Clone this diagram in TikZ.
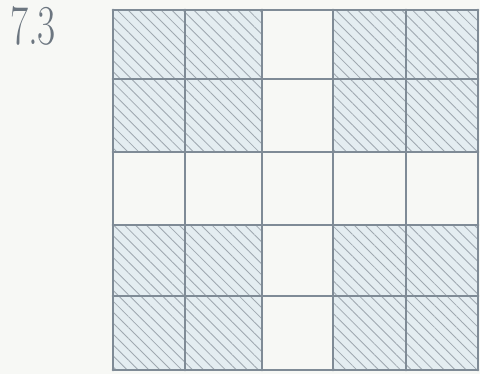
\documentclass[tikz,border=0pt]{standalone}
\usepackage{tikz}
\usetikzlibrary{patterns.meta}
\definecolor{pencilgray}{HTML}{7F8B96}
\definecolor{papercream}{HTML}{F7F8F5}
\definecolor{hatchtint}{HTML}{E4EDF1}
\tikzstyle{hatched} = [preaction={fill=hatchtint}, pattern={Lines[angle=-45, distance=11pt, line width=1.2pt]}, pattern color=pencilgray!75]
\tikzstyle{gridline} = [pencilgray, line width=4pt, line cap=round]

\begin{document}
\begin{tikzpicture}[x=0.5mm, y=-0.5mm]
\fill[papercream] (0,0) rectangle (480,374);

% hatched cells (middle row and column stay blank)
\foreach \ya/\yb in {10/79, 79/152, 225/296, 296/370} {
  \foreach \xa/\xb in {113/185, 185/262, 333/406, 406/478} {
    \fill[hatched] (\xa,\ya) rectangle (\xb,\yb);
  }
}

% grid
\foreach \gx in {113,185,262,333,406,478}
  \draw[gridline] (\gx,10) -- (\gx,370);
\foreach \gy in {10,79,152,225,296,370}
  \draw[gridline] (113,\gy) -- (478,\gy);

\node[font=\fontsize{80}{80}\selectfont, text=pencilgray!85!black, inner sep=0pt, xscale=0.7, transform shape] (tasknum) at (33,26) {7.3};
\end{tikzpicture}
\end{document}
